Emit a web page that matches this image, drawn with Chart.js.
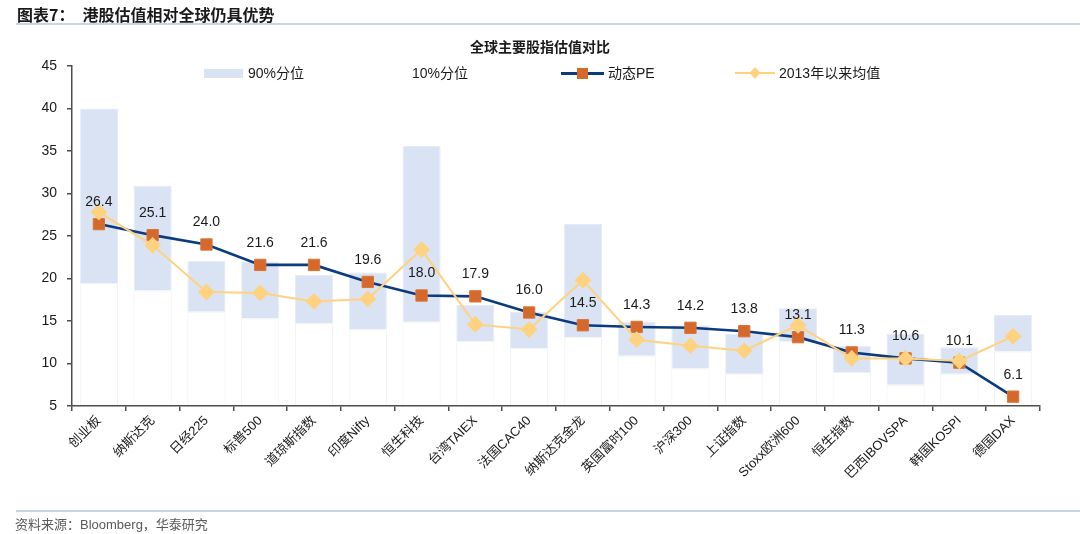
<!DOCTYPE html>
<html>
<head>
<meta charset="utf-8">
<script src="https://cdn.jsdelivr.net/npm/chart.js@4.4.0/dist/chart.umd.min.js"></script>
<style>
  body { margin: 0; background: #fff; }
  #wrap { position: relative; width: 1080px; height: 534px; overflow: hidden;
          font-family: "Liberation Sans", "Noto Sans CJK SC", sans-serif; color: #1a1a1a; }
  #box { position: absolute; left: 0; top: 0; width: 1080px; height: 534px; }
  .txt { position: absolute; white-space: nowrap; }
  #head { left: 17px; top: 2px; font-size: 16px; font-weight: bold; font-family: "Noto Sans CJK SC", sans-serif; }
  #head span { margin-left: 8px; }
  .rule { position: absolute; left: 16px; width: 1064px; height: 2px; background: #c9d3e5; }
  #ctitle { left: 0; width: 1080px; top: 36px; text-align: center; font-size: 14px; font-weight: bold;
            font-family: "Noto Sans CJK SC", sans-serif; }
  .leg { top: 65px; font-size: 14px; line-height: 16px; }
  .sw { position: absolute; }
  #src { left: 15px; top: 514px; font-size: 13px; color: #595959; }
</style>
</head>
<body>
<div id="wrap">
  <div id="box"><canvas id="chart"></canvas></div>
  <div class="txt" id="head">图表7：<span>港股估值相对全球仍具优势</span></div>
  <div class="rule" style="top:23px"></div>
  <div class="txt" id="ctitle">全球主要股指估值对比</div>

  <div class="sw" style="left:204px;top:69px;width:39px;height:9px;background:#dae3f3"></div>
  <div class="txt leg" style="left:248px">90%分位</div>
  <div class="txt leg" style="left:412px">10%分位</div>
  <div class="sw" style="left:561px;top:72px;width:43px;height:3px;background:#0a3b7e"></div>
  <div class="sw" style="left:577px;top:68px;width:11px;height:11px;background:#d5692b"></div>
  <div class="txt leg" style="left:608px">动态PE</div>
  <div class="sw" style="left:735px;top:72px;width:40px;height:2px;background:#ffd27f"></div>
  <div class="sw" style="left:751px;top:69px;width:8px;height:8px;background:#ffd27f;transform:rotate(45deg)"></div>
  <div class="txt leg" style="left:779px">2013年以来均值</div>

  <div class="rule" style="top:510px"></div>
  <div class="txt" id="src">资料来源：Bloomberg，华泰研究</div>
</div>
<script>
var categories = ['创业板', '纳斯达克', '日经225', '标普500', '道琼斯指数', '印度Nifty', '恒生科技', '台湾TAIEX',
  '法国CAC40', '纳斯达克金龙', '英国富时100', '沪深300', '上证指数', 'Stoxx欧洲600', '恒生指数', '巴西IBOVSPA',
  '韩国KOSPI', '德国DAX'];
var pct90 = [40.0, 30.9, 22.1, 22.0, 20.4, 20.7, 35.6, 16.9, 16.1, 26.4, 14.9, 14.5, 13.5, 16.5, 12.1, 13.5, 11.9, 15.7];
var pct10 = [19.4, 18.6, 16.1, 15.3, 14.7, 14.0, 14.9, 12.6, 11.8, 13.1, 10.9, 9.4, 8.8, 12.6, 9.0, 7.5, 8.8, 11.4];
var pe = [26.4, 25.1, 24.0, 21.6, 21.6, 19.6, 18.0, 17.9, 16.0, 14.5, 14.3, 14.2, 13.8, 13.1, 11.3, 10.6, 10.1, 6.1];
var avg2013 = [27.8, 23.9, 18.4, 18.3, 17.3, 17.6, 23.4, 14.6, 14.0, 19.8, 12.8, 12.1, 11.5, 14.5, 10.6, 10.6, 10.3, 13.2];
var yTicks = [5, 45, 5]; // min, max, step

// value labels above the PE squares
var peLabels = {
  id: 'peLabels',
  afterDatasetsDraw: function(chart) {
    var meta = chart.getDatasetMeta(2);
    var ctx = chart.ctx;
    ctx.save();
    ctx.font = '14px "Liberation Sans", Arial';
    ctx.fillStyle = '#1a1a1a';
    ctx.textAlign = 'center';
    ctx.textBaseline = 'middle';
    meta.data.forEach(function(pt, i) {
      ctx.fillText(pe[i].toFixed(1), pt.x, pt.y - 22);
    });
    ctx.restore();
  }
};

var ctx = document.getElementById('chart');
new Chart(ctx, {
  type: 'bar',
  data: {
    labels: categories,
    datasets: [{
      label: '90%分位',
      data: pct10.map(function(v, i) { return [v, pct90[i]]; }),
      backgroundColor: '#dae3f3',
      borderColor: '#e6ecf7',
      borderWidth: 1,
      grouped: false,
      order: 3
    }, {
      label: '10%分位',
      data: pct10.map(function(v) { return [yTicks[0], v]; }),
      backgroundColor: '#ffffff',
      borderColor: '#f1f1f1',
      borderWidth: 1,
      grouped: false,
      order: 4
    }, {
      type: 'line',
      label: '动态PE',
      data: pe,
      borderColor: '#0a3b7e',
      borderWidth: 2.6,
      pointStyle: 'rect',
      pointRadius: 8,
      pointBackgroundColor: '#d5692b',
      pointBorderColor: '#dc7438',
      pointBorderWidth: 1,
      order: 2
    }, {
      type: 'line',
      label: '2013年以来均值',
      data: avg2013,
      borderColor: '#ffd27f',
      borderWidth: 2,
      pointStyle: 'rectRot',
      pointRadius: 7,
      pointBackgroundColor: '#ffd27f',
      pointBorderColor: '#ffd27f',
      order: 1
    }]
  },
  options: {
    responsive: true,
    maintainAspectRatio: false,
    animation: false,
    events: [],
    layout: { padding: { top: 66, right: 40, left: 0, bottom: 0 } },
    datasets: { bar: { categoryPercentage: 1, barPercentage: 0.71 } },
    plugins: {
      legend: { display: false },
      tooltip: { enabled: false }
    },
    scales: {
      x: {
        afterFit: function(scale) { scale.height = 128; },
        border: { color: '#4d4d4d', width: 1.5, z: 1 },
        grid: { drawOnChartArea: false, drawTicks: true, tickLength: 5, color: '#4d4d4d', lineWidth: 1.5, z: 1 },
        ticks: {
          autoSkip: false, minRotation: 45, maxRotation: 45, padding: 2,
          color: '#1a1a1a',
          font: { size: 13, family: '"Liberation Sans", "Noto Sans CJK SC", sans-serif' }
        }
      },
      y: {
        min: yTicks[0],
        max: yTicks[1],
        afterFit: function(scale) { scale.width = 72; },
        border: { color: '#4d4d4d', width: 1.5, z: 1 },
        grid: { drawOnChartArea: false, drawTicks: true, tickLength: 5, color: '#4d4d4d', lineWidth: 1.5, z: 1 },
        ticks: {
          stepSize: yTicks[2], padding: 10, color: '#1a1a1a',
          font: { size: 14, family: '"Liberation Sans", Arial, sans-serif' }
        }
      }
    }
  },
  plugins: [peLabels]
});
</script>
</body>
</html>
